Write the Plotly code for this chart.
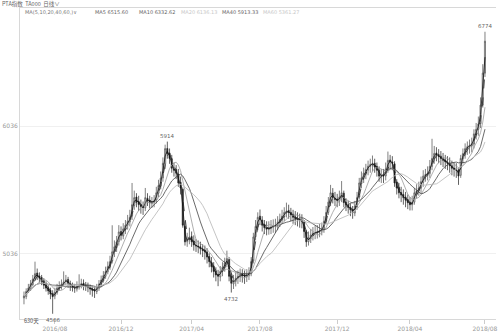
import plotly.graph_objects as go
import pandas as pd

# ---------------- data (~3 trading days per bar) ----------------
open_ = [4690,4700,4745,4760,4795,4840,4885,4860,4850,4825,4795,4770,4750,4725,4705,4730,4770,4775,4795,4820,
         4835,4800,4785,4770,4760,4775,4795,4805,4790,4785,4775,4760,4755,4740,4765,4795,4825,4860,4895,4930,
         4980,5050,5085,5130,5210,5175,5225,5260,5285,5330,5415,5480,5445,5420,5400,5395,5470,5455,5430,5440,
         5455,5510,5565,5630,5740,5860,5825,5780,5700,5695,5660,5595,5540,5250,5130,5145,5170,5135,5100,5095,
         5090,5070,5065,5050,5015,4970,4940,4900,4875,4855,4900,4925,4960,4990,4860,4800,4820,4845,4855,4880,
         4870,4855,4865,4880,4980,5170,5245,5330,5300,5265,5245,5225,5235,5245,5250,5255,5280,5300,5325,5355,
         5375,5360,5345,5320,5315,5305,5300,5285,5205,5130,5155,5180,5195,5200,5205,5215,5225,5290,5360,5435,
         5510,5470,5465,5450,5478,5510,5440,5420,5400,5382,5355,5405,5480,5585,5625,5660,5690,5720,5730,5745,
         5720,5690,5640,5655,5645,5700,5770,5755,5740,5595,5555,5515,5500,5480,5460,5440,5420,5440,5510,5530,
         5550,5595,5645,5650,5665,5720,5785,5825,5812,5800,5785,5770,5752,5745,5725,5705,5695,5690,5650,5780,
         5815,5860,5870,5880,5895,5970,6010,6055,6200,6450]
high = [4740,4765,4800,4830,4870,4974,4920,4890,4870,4845,4820,4790,4770,4750,4770,4800,4820,4835,4898,4870,
        4855,4825,4810,4800,4820,4875,4840,4835,4815,4810,4795,4785,4780,4800,4830,4865,4900,4935,4975,5020,
        5259,5140,5175,5260,5250,5275,5300,5340,5380,5590,5530,5510,5490,5460,5445,5551,5510,5490,5480,5495,
        5560,5615,5680,5790,5890,5914,5860,5810,5750,5730,5700,5640,5555,5290,5200,5240,5210,5180,5150,5140,
        5130,5110,5100,5080,5040,5010,4970,4930,4910,4940,4970,5005,5060,5010,4880,4870,4890,4905,4920,4915,
        4905,4915,4930,5010,5200,5300,5360,5382,5330,5300,5290,5290,5300,5305,5310,5330,5350,5380,5400,5436,
        5420,5395,5380,5370,5360,5350,5345,5300,5220,5210,5230,5245,5255,5260,5270,5280,5330,5410,5480,5575,
        5550,5520,5505,5530,5605,5530,5470,5450,5430,5410,5450,5520,5630,5680,5710,5740,5765,5780,5805,5780,
        5750,5720,5700,5700,5750,5836,5810,5800,5760,5620,5590,5560,5540,5520,5500,5480,5490,5550,5580,5600,
        5640,5690,5700,5720,5770,5936,5880,5870,5855,5840,5825,5810,5800,5790,5765,5750,5745,5710,5810,5860,
        5900,5915,5930,5945,6010,6060,6110,6260,6520,6774]
low = [4640,4680,4730,4745,4780,4825,4830,4810,4790,4760,4740,4715,4680,4566,4680,4715,4745,4755,4780,4790,
       4770,4745,4740,4730,4740,4755,4765,4750,4745,4735,4715,4700,4690,4720,4745,4780,4810,4840,4875,4910,
       4960,5010,5050,5100,5140,5150,5190,5225,5250,5300,5380,5400,5370,5350,5340,5370,5410,5390,5395,5400,
       5430,5480,5540,5600,5700,5780,5740,5670,5640,5620,5560,5500,5240,5100,5090,5110,5090,5060,5050,5040,
       5030,5010,4990,4960,4930,4890,4850,4820,4782,4820,4860,4895,4930,4820,4732,4760,4780,4800,4815,4810,
       4800,4815,4830,4860,4960,5140,5220,5260,5210,5190,5180,5185,5190,5200,5200,5220,5245,5270,5290,5320,
       5310,5290,5270,5260,5250,5240,5235,5160,5090,5100,5120,5140,5150,5155,5165,5180,5200,5270,5340,5410,
       5430,5410,5400,5410,5440,5400,5370,5350,5330,5310,5330,5380,5460,5550,5590,5620,5650,5670,5680,5670,
       5640,5600,5590,5590,5610,5670,5700,5690,5560,5500,5470,5440,5420,5400,5385,5375,5375,5420,5470,5490,
       5510,5560,5600,5610,5630,5690,5740,5760,5745,5730,5715,5700,5690,5670,5650,5640,5630,5575,5630,5740,
       5780,5810,5820,5830,5860,5930,5960,6020,6180,6420]
close = [4705,4740,4767,4800,4836,4880,4859,4845,4821,4790,4767,4745,4721,4700,4735,4767,4780,4798,4815,4830,
         4805,4782,4775,4767,4780,4790,4800,4788,4782,4770,4759,4750,4744,4770,4798,4830,4865,4897,4935,4974,
         5051,5090,5129,5206,5180,5230,5259,5290,5321,5420,5475,5440,5421,5405,5398,5475,5450,5436,5442,5450,
         5513,5570,5628,5744,5859,5820,5782,5705,5690,5667,5590,5551,5260,5129,5150,5167,5130,5105,5098,5090,
         5075,5062,5051,5010,4974,4935,4897,4870,4859,4897,4930,4965,4998,4859,4805,4825,4844,4860,4875,4866,
         4859,4870,4882,4974,5167,5250,5321,5306,5259,5240,5229,5238,5244,5252,5259,5282,5306,5330,5359,5370,
         5359,5340,5321,5312,5306,5298,5290,5210,5129,5160,5183,5198,5202,5206,5218,5229,5290,5359,5440,5513,
         5475,5462,5452,5480,5513,5436,5415,5398,5380,5359,5410,5475,5590,5630,5667,5695,5721,5735,5744,5715,
         5690,5644,5650,5644,5700,5767,5755,5744,5590,5550,5513,5495,5475,5455,5436,5420,5436,5513,5530,5551,
         5600,5644,5655,5667,5720,5782,5821,5810,5798,5782,5767,5755,5744,5725,5705,5698,5690,5644,5782,5820,
         5859,5874,5885,5897,5974,6010,6051,6200,6450,6700]

ma_periods = [5, 10, 20, 40, 60]          # days, as in the legend
ma_values_text = ["6515.60", "6332.62", "6136.13", "5913.33", "5361.27"]
days_per_bar = 3

tick_index = [14, 44, 76, 107, 142, 175, 209]
tick_labels = ["2016/08", "2016/12", "2017/04", "2017/08", "2017/12", "2018/04", "2018/08"]
y_ticks = [5036, 6036]

marks = [(65, 5914, "5914", "bottom"), (94, 4732, "4732", "top"),
         (209, 6774, "6774", "bottom"), (13, 4566, "4566", "top")]

# ---------------- figure ----------------
n = len(close)
idx = list(range(n))
fig = go.Figure()

fig.add_trace(go.Candlestick(
    x=idx, open=open_, high=high, low=low, close=close,
    increasing=dict(line=dict(color="#4a4a4a", width=0.7), fillcolor="#ffffff"),
    decreasing=dict(line=dict(color="#1e1e1e", width=0.7), fillcolor="#1e1e1e"),
    whiskerwidth=0, showlegend=False, hoverinfo="skip"))

ma_styles = [dict(color="#111111", width=0.8, dash="solid"),
             dict(color="#222222", width=0.8, dash="dash"),
             dict(color="#9a9a9a", width=0.8, dash="solid"),
             dict(color="#444444", width=0.8, dash="solid"),
             dict(color="#bdbdbd", width=0.9, dash="solid")]
s = pd.Series(close, dtype=float)
for p, st in zip(ma_periods, ma_styles):
    w = max(1, round(p / days_per_bar))
    ma = s.rolling(w, min_periods=1).mean()
    fig.add_trace(go.Scatter(x=idx, y=ma, mode="lines", line=st,
                             showlegend=False, hoverinfo="skip"))

for xi, yv, txt, anc in marks:
    fig.add_annotation(x=xi, y=yv, text=txt, showarrow=False,
                       yanchor=anc, yshift=1 if anc == "bottom" else -1,
                       font=dict(size=5.5, color="#666666", family="DejaVu Sans"))

# header texts
L, R, T, B = 20, 2, 8, 9
W, H = 500, 334
def px(xp):
    return (xp - L) / (W - L - R)
def py(yp):
    return (H - B - yp) / (H - T - B)

fig.add_annotation(xref="paper", yref="paper", x=px(0), y=py(3.5), xanchor="left", yanchor="middle",
                   text="PTA指数  TA000  日线∨", showarrow=False,
                   font=dict(size=5.5, color="#666666", family="Noto Sans CJK SC"))
fig.add_annotation(xref="paper", yref="paper", x=px(23), y=py(12), xanchor="left", yanchor="middle",
                   text="MA(5,10,20,40,60,)∨", showarrow=False,
                   font=dict(size=5, color="#777777", family="DejaVu Sans"))
hdr_x = [93, 137, 180, 221, 262]
hdr_col = ["#666666", "#666666", "#c8c8c8", "#666666", "#c8c8c8"]
for p, v, xx, c in zip(ma_periods, ma_values_text, hdr_x, hdr_col):
    fig.add_annotation(xref="paper", yref="paper", x=px(xx), y=py(12), xanchor="left", yanchor="middle",
                       text=f"MA{p} {v}", showarrow=False,
                       font=dict(size=5, color=c, family="DejaVu Sans"))
fig.add_annotation(xref="paper", yref="paper", x=px(22), y=py(321), xanchor="left", yanchor="top",
                   text="630天", showarrow=False,
                   font=dict(size=5.5, color="#555555", family="Noto Sans CJK SC"))

fig.update_layout(
    width=W, height=H, margin=dict(l=L, r=R, t=T, b=B),
    paper_bgcolor="white", plot_bgcolor="white",
    xaxis=dict(range=[-1.8, 214], tickmode="array", tickvals=tick_index, ticktext=tick_labels,
               showgrid=False, zeroline=False, rangeslider=dict(visible=False),
               showline=True, linecolor="#d8d8d8", linewidth=1, mirror=True,
               ticks="outside", ticklen=4, tickcolor="#cccccc",
               tickfont=dict(size=6, color="#999999", family="DejaVu Sans")),
    yaxis=dict(range=[4525, 6960], tickmode="array", tickvals=y_ticks,
               ticktext=[str(v) for v in y_ticks],
               showgrid=True, gridcolor="#f0f0f0", zeroline=False,
               showline=True, linecolor="#d8d8d8", linewidth=1,
               ticks="", tickfont=dict(size=6, color="#999999", family="DejaVu Sans")),
)

fig.write_html("out.html")
